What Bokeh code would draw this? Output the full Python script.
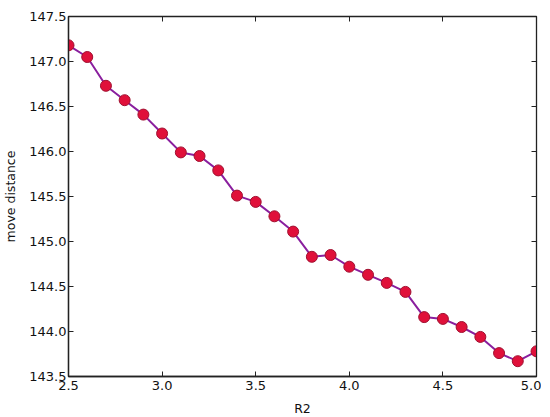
from bokeh.plotting import figure
from bokeh.models import LinearAxis, Range1d, FixedTicker, PrintfTickFormatter, CustomJSTickFormatter
from bokeh.embed import file_html
from bokeh.resources import INLINE

r2 = [2.5, 2.6, 2.7, 2.8, 2.9, 3.0, 3.1, 3.2, 3.3, 3.4, 3.5, 3.6, 3.7,
      3.8, 3.9, 4.0, 4.1, 4.2, 4.3, 4.4, 4.5, 4.6, 4.7, 4.8, 4.9, 5.0]
move_distance = [147.18, 147.05, 146.73, 146.57, 146.41, 146.20, 145.99, 145.95,
                 145.79, 145.51, 145.44, 145.28, 145.11, 144.83, 144.85, 144.72,
                 144.63, 144.54, 144.44, 144.16, 144.14, 144.05, 143.94, 143.76,
                 143.67, 143.78]
x_ticks = [2.5, 3.0, 3.5, 4.0, 4.5, 5.0]
y_ticks = [143.5, 144.0, 144.5, 145.0, 145.5, 146.0, 146.5, 147.0, 147.5]

FONT = "DejaVu Sans"
DARK = "#222222"

p = figure(frame_width=468, frame_height=360, output_backend="svg", toolbar_location=None,
           x_range=Range1d(2.5, 5.0), y_range=Range1d(143.5, 147.5),
           min_border_left=60, min_border_top=16, min_border_right=5,
           min_border_bottom=30)
p.grid.visible = False
p.outline_line_color = DARK
p.outline_line_width = 1.3
p.background_fill_color = "white"
p.border_fill_color = "white"

for ax, ticks in ((p.xaxis[0], x_ticks), (p.yaxis[0], y_ticks)):
    ax.ticker = FixedTicker(ticks=ticks)
    ax.formatter = PrintfTickFormatter(format="%.1f")
    ax.major_tick_in = 5
    ax.major_tick_out = 0
    ax.minor_tick_in = 0
    ax.minor_tick_out = 0
    ax.axis_line_color = DARK
    ax.axis_line_width = 1.3
    ax.major_tick_line_color = DARK
    ax.major_label_text_font = FONT
    ax.major_label_text_font_size = "13px"
    ax.major_label_text_color = "#111111"
    ax.axis_label_text_font = FONT
    ax.axis_label_text_font_size = "12.5px"
    ax.axis_label_text_font_style = "normal"
    ax.axis_label_text_color = "#111111"

p.xaxis.axis_label = "R2"
p.yaxis.axis_label = "move distance"
p.xaxis.major_label_standoff = 4
p.xaxis.axis_label_standoff = 8
p.yaxis.major_label_standoff = 2
p.yaxis.axis_label_standoff = 8

blank = CustomJSTickFormatter(code="return ''")
top = LinearAxis(ticker=FixedTicker(ticks=x_ticks), formatter=blank,
                 major_tick_in=5, major_tick_out=0,
                 minor_tick_in=0, minor_tick_out=0,
                 axis_line_color=DARK, major_tick_line_color=DARK,
                 major_label_standoff=0)
right = LinearAxis(ticker=FixedTicker(ticks=y_ticks), formatter=blank,
                   major_tick_in=5, major_tick_out=0,
                   minor_tick_in=0, minor_tick_out=0,
                   axis_line_color=DARK, major_tick_line_color=DARK,
                   major_label_standoff=0)
p.add_layout(top, "above")
p.add_layout(right, "right")

p.line(r2, move_distance, line_color="#8a1f9e", line_width=2)
p.scatter(r2, move_distance, size=11, fill_color="#e0103a",
          line_color="#a01030", line_width=1)

open("out.html", "w").write(file_html(p, INLINE))
